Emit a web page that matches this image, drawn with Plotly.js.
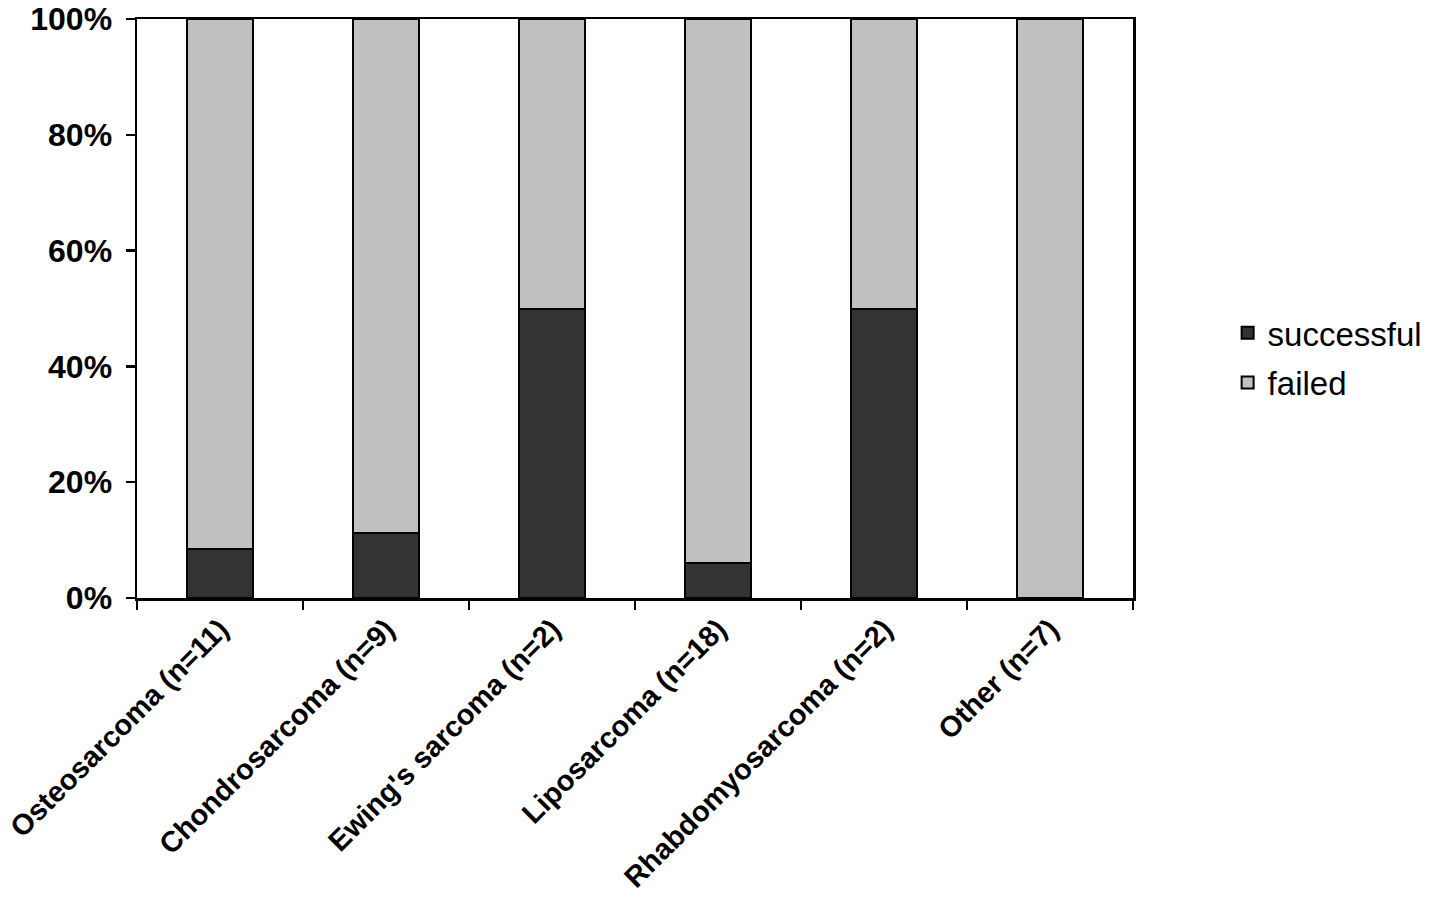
<!DOCTYPE html>
<html>
<head>
<meta charset="utf-8">
<script src="https://cdn.plot.ly/plotly-3.0.1.min.js"></script>
<style>html,body{margin:0;padding:0;background:#fff;}#chart{width:1441px;height:909px;}</style>
</head>
<body>
<div id="chart"></div>
<script>
const categories = ["Osteosarcoma (n=11)", "Chondrosarcoma (n=9)", "Ewing's sarcoma (n=2)", "Liposarcoma (n=18)", "Rhabdomyosarcoma (n=2)", "Other (n=7)"];
const successful = [8.4, 11.2, 50, 6.0, 50, 0];
const failed = [91.6, 88.8, 50, 94.0, 50, 100];
const yTickVals = [0, 20, 40, 60, 80, 100];
const yTickText = ["0%", "20%", "40%", "60%", "80%", "100%"];

const fontFam = "Arial, 'Liberation Sans', sans-serif";

const traces = [
  {
    type: 'bar', name: 'successful', x: categories, y: successful,
    legendgroup: 'a',
    marker: {color: '#333333', line: {color: '#000000', width: 2}}
  },
  {
    type: 'bar', name: 'failed', x: categories, y: failed,
    legendgroup: 'b',
    marker: {color: '#c0c0c0', line: {color: '#000000', width: 2}}
  }
];

const layout = {
  width: 1441, height: 909,
  margin: {l: 137, r: 308, t: 19, b: 311, pad: 0},
  paper_bgcolor: '#ffffff', plot_bgcolor: '#ffffff',
  barmode: 'stack',
  bargap: 0.605,
  showlegend: true,
  legend: {
    x: 1.095, xanchor: 'left', y: 0.415, yanchor: 'middle',
    traceorder: 'grouped', tracegroupgap: 4,
    font: {family: fontFam, size: 33, color: '#000'},
    bgcolor: 'rgba(0,0,0,0)'
  },
  xaxis: {
    type: 'category',
    showgrid: false, zeroline: false,
    showline: true, linecolor: '#000', linewidth: 2.5, mirror: true,
    ticks: 'outside', tickson: 'boundaries', ticklen: 9, tickwidth: 2.5, tickcolor: '#000',
    tickangle: -45,
    tickfont: {family: fontFam, size: 29, color: '#000', weight: 'bold'}
  },
  yaxis: {
    range: [0, 100],
    tickvals: yTickVals, ticktext: yTickText,
    showgrid: false, zeroline: false,
    showline: true, linecolor: '#000', linewidth: 2.5, mirror: true,
    ticks: 'outside', ticklen: 9, tickwidth: 2.5, tickcolor: '#000',
    ticklabelstandoff: 7,
    tickfont: {family: fontFam, size: 32, color: '#000', weight: 'bold'}
  }
};

Plotly.newPlot('chart', traces, layout, {displayModeBar: false, staticPlot: true});
</script>
</body>
</html>
